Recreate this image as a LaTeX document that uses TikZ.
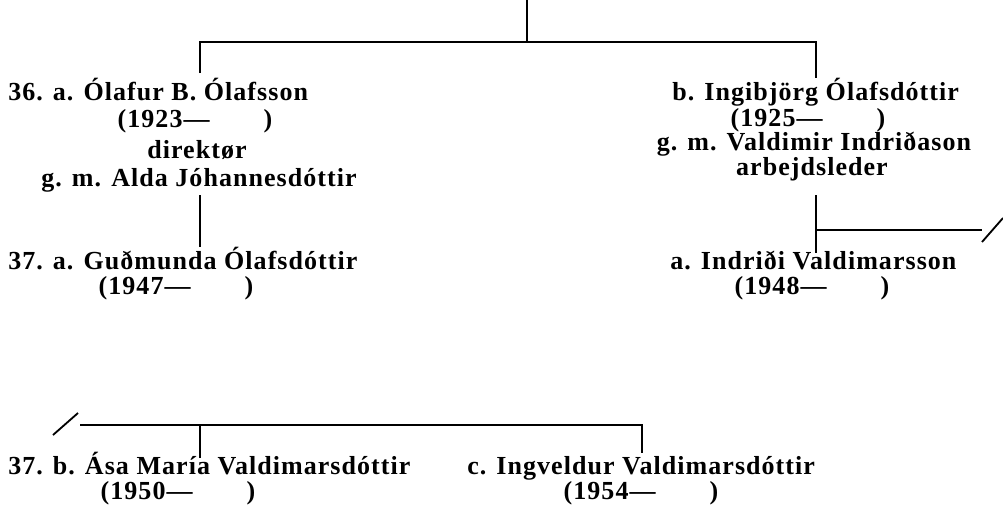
\documentclass[tikz,border=0pt]{standalone}
\usepackage{fontspec}
\setmainfont{Liberation Serif}[LetterSpace=4]
\newcommand{\gap}{\hspace{1.35cm}}
\tikzset{
  person/.style={inner sep=0pt, font=\fontsize{18.5}{22}\selectfont\bfseries},
  link/.style={line width=1.8pt}
}
\begin{document}
\begin{tikzpicture}[x=0.025cm, y=-0.025cm]
  \useasboundingbox (0,0) rectangle (1003,507);

%Generation 36
  \node[person, anchor=base west] at (8, 100)   (olafur)   {36. a. Ólafur B. Ólafsson};
  \node[person, anchor=base]      at (195, 127) (olafurd)  {(1923—\gap)};
  \node[person, anchor=base]      at (197, 158) (olafurj)  {direktør};
  \node[person, anchor=base]      at (199, 186) (alda)     {g. m. Alda Jóhannesdóttir};

  \node[person, anchor=base west] at (672, 100) (ingib)    {b. Ingibjörg Ólafsdóttir};
  \node[person, anchor=base]      at (808, 126) (ingibd)   {(1925—\gap)};
  \node[person, anchor=base]      at (814, 150) (valdimir) {g. m. Valdimir Indriðason};
  \node[person, anchor=base]      at (812, 175) (valdj)    {arbejdsleder};

%Generation 37
  \node[person, anchor=base west] at (8, 269)   (gudm)     {37. a. Guðmunda Ólafsdóttir};
  \node[person, anchor=base]      at (176, 294) (gudmd)    {(1947—\gap)};
  \node[person, anchor=base west] at (670, 269) (indridi)  {a. Indriði Valdimarsson};
  \node[person, anchor=base]      at (812, 294) (indridid) {(1948—\gap)};

  \node[person, anchor=base west] at (8, 474)   (asa)      {37. b. Ása María Valdimarsdóttir};
  \node[person, anchor=base]      at (178, 499) (asad)     {(1950—\gap)};
  \node[person, anchor=base west] at (467, 474) (ingv)     {c. Ingveldur Valdimarsdóttir};
  \node[person, anchor=base]      at (641, 499) (ingvd)    {(1954—\gap)};

%Connection points
  \coordinate (top)   at (527, 0);
  \coordinate (fork)  at (527, 42);
  \coordinate (up36a) at (200, 73);
  \coordinate (up36b) at (816, 78);
  \coordinate (dn36a) at (200, 195);
  \coordinate (up37a) at (200, 247);
  \coordinate (dn36b) at (816, 195);
  \coordinate (up37x) at (816, 253);
  \coordinate (cont)  at (982, 230);
  \coordinate (cutA)  at (982, 242);
  \coordinate (cutB)  at (1003, 218);
  \coordinate (cutC)  at (53, 435);
  \coordinate (cutD)  at (78, 413);
  \coordinate (bar37) at (80, 425);
  \coordinate (up37b) at (200, 458);
  \coordinate (up37c) at (642, 453);

  \draw[link] (top) -- (fork);
  \draw[link] (up36a) -- (up36a |- fork) -- (fork -| up36b) -- (up36b);
  \draw[link] (dn36a) -- (up37a);
  \draw[link] (dn36b) -- (up37x);
  \draw[link] (dn36b |- cont) -- (cont);
  \draw[line width=1.3pt] (cutA) -- (cutB);
  \draw[line width=1.3pt] (cutC) -- (cutD);
  \draw[link] (bar37) -- (bar37 -| up37c) -- (up37c);
  \draw[link] (up37b) -- (up37b |- bar37);

\end{tikzpicture}
\end{document}
